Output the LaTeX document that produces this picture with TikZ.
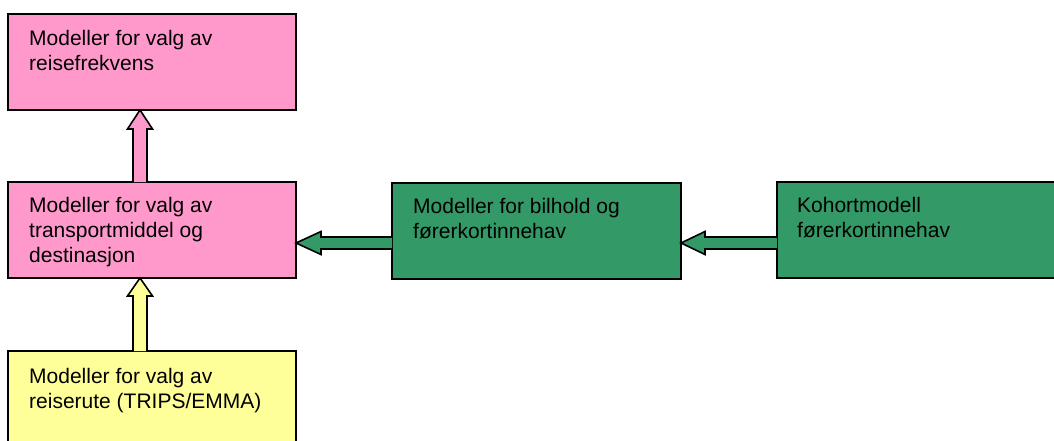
\documentclass[tikz,border=0pt]{standalone}
\usepackage{fontspec}
\setmainfont{Liberation Sans}
\usetikzlibrary{calc}

\definecolor{boxpink}{HTML}{FF99CC}
\definecolor{boxgreen}{HTML}{339966}
\definecolor{boxyellow}{HTML}{FFFF99}

\tikzset{
  box/.style={draw=black, line width=2pt, minimum width=288pt, minimum height=96pt,
              inner sep=0pt, outer sep=0pt, anchor=north west},
  boxtext/.style={anchor=north west, inner sep=0pt, align=left,
              font=\fontsize{21pt}{25pt}\selectfont},
  blockarrow/.style={draw=black, line width=1.6pt, line join=miter},
}

\begin{document}
\begin{tikzpicture}[x=1pt, y=-1pt]
  \useasboundingbox (0,0) rectangle (1054,441);
  \clip (0,0) rectangle (1054,441);

  % model boxes
  \node[box, fill=boxpink] (freq) at (8,14) {};
  \node[box, fill=boxpink] (mode) at (8,182) {};
  \node[box, fill=boxyellow, minimum height=120pt] (route) at (8,351) {};
  \node[box, fill=boxgreen, minimum width=289pt] (car) at (392,183) {};
  \node[box, fill=boxgreen, minimum width=320pt] (cohort) at (777,182) {};

  % box texts
  \node[boxtext] (freqtext) at ($(freq.north west)+(21,16)$)
    {Modeller for valg av\\reisefrekvens};
  \node[boxtext] (modetext) at ($(mode.north west)+(21,15)$)
    {Modeller for valg av\\transportmiddel og\\destinasjon};
  \node[boxtext] (routetext) at ($(route.north west)+(21,17)$)
    {Modeller for valg av\\reiserute (TRIPS/EMMA)};
  \node[boxtext] (cartext) at ($(car.north west)+(21,15)$)
    {Modeller for bilhold og\\førerkortinnehav};
  \node[boxtext] (cohorttext) at ($(cohort.north west)+(20,15)$)
    {Kohortmodell\\førerkortinnehav};

  % block arrows pointing upwards
  \coordinate (a1s) at ($(mode.north west)+(132,0)$);
  \coordinate (a1t) at ($(freq.south west)+(132,0)$);
  \coordinate (a2s) at ($(route.north west)+(132,0)$);
  \coordinate (a2t) at ($(mode.south west)+(132,0)$);
  \draw[blockarrow, fill=boxpink]
    let \p1=(a1s), \p2=(a1t) in
    (\x1-7pt,\y1) -- (\x1-7pt,\y2-19pt) -- (\x1-12.5pt,\y2-19pt) -- (\x2,\y2)
    -- (\x1+12.5pt,\y2-19pt) -- (\x1+7pt,\y2-19pt) -- (\x1+7pt,\y1);
  \draw[blockarrow, fill=boxyellow]
    let \p1=(a2s), \p2=(a2t) in
    (\x1-7pt,\y1) -- (\x1-7pt,\y2-18pt) -- (\x1-12.5pt,\y2-18pt) -- (\x2,\y2)
    -- (\x1+12.5pt,\y2-18pt) -- (\x1+7pt,\y2-18pt) -- (\x1+7pt,\y1);

  % block arrows pointing left
  \coordinate (a3s) at ($(car.north west)+(0,60)$);
  \coordinate (a3t) at ($(mode.north east)+(0,61)$);
  \coordinate (a4s) at ($(cohort.north west)+(0,61)$);
  \coordinate (a4t) at ($(car.north east)+(0,60)$);
  \draw[blockarrow, fill=boxgreen]
    let \p1=(a3s), \p2=(a3t) in
    (\x1,\y1+6pt) -- (\x2+25pt,\y1+6pt) -- (\x2+25pt,\y1+11.5pt) -- (\x2,\y1)
    -- (\x2+25pt,\y1-11.5pt) -- (\x2+25pt,\y1-6pt) -- (\x1,\y1-6pt);
  \draw[blockarrow, fill=boxgreen]
    let \p1=(a4s), \p2=(a4t) in
    (\x1,\y1+6pt) -- (\x2+24pt,\y1+6pt) -- (\x2+24pt,\y1+11.5pt) -- (\x2,\y1)
    -- (\x2+24pt,\y1-11.5pt) -- (\x2+24pt,\y1-6pt) -- (\x1,\y1-6pt);
\end{tikzpicture}
\end{document}
